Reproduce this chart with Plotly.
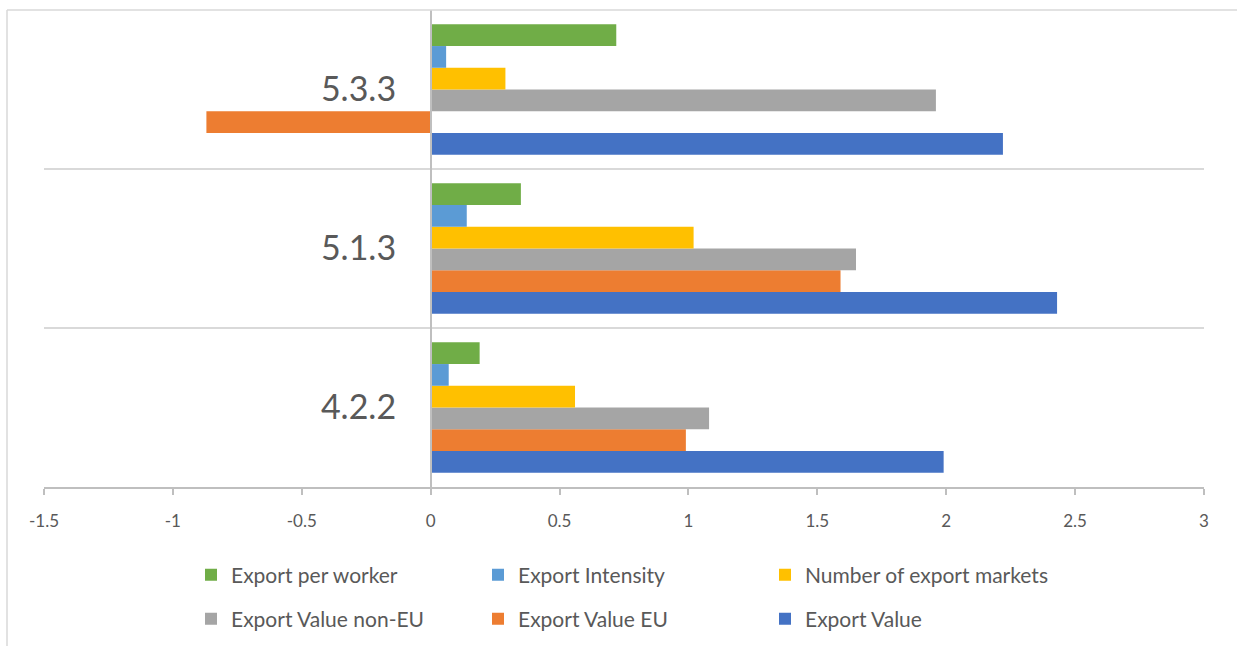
import plotly.graph_objects as go

categories = ["4.2.2", "5.1.3", "5.3.3"]
series_names = ["Export Value", "Export Value EU", "Export Value non-EU",
                "Number of export markets", "Export Intensity", "Export per worker"]
export_value = [1.99, 2.43, 2.22]
export_value_eu = [0.99, 1.59, -0.87]
export_value_non_eu = [1.08, 1.65, 1.96]
num_export_markets = [0.56, 1.02, 0.29]
export_intensity = [0.07, 0.14, 0.06]
export_per_worker = [0.19, 0.35, 0.72]
colors = ["#4472C4", "#ED7D31", "#A5A5A5", "#FFC000", "#5B9BD5", "#70AD47"]
x_ticks = [-1.5, -1, -0.5, 0, 0.5, 1, 1.5, 2, 2.5, 3]
x_tick_labels = ["-1.5", "-1", "-0.5", "0", "0.5", "1", "1.5", "2", "2.5", "3"]

values = [export_value, export_value_eu, export_value_non_eu,
          num_export_markets, export_intensity, export_per_worker]

FONT = "Lato, 'Open Sans', sans-serif"
W, H = 1237, 646
L, R, T, B = 44, 33, 10, 159
pw = W - L - R
ph = H - T - B

fig = go.Figure()
for i, (name, vals, col) in enumerate(zip(series_names, values, colors)):
    fig.add_trace(go.Bar(y=categories, x=vals, name=name, orientation="h",
                         legend="legend" if i >= 3 else "legend2",
                         marker=dict(color=col, line=dict(width=0))))

xmin, xmax = -1.5, 3
zero_pos = (0 - xmin) / (xmax - xmin)

leg_common = dict(orientation="h", traceorder="reversed",
                  xref="container", yref="container",
                  x=191 / W, xanchor="left", yanchor="middle",
                  entrywidth=242, entrywidthmode="pixels",
                  font=dict(family=FONT, size=21, color="#595959"),
                  itemwidth=30, bgcolor="rgba(0,0,0,0)")

fig.update_layout(
    width=W, height=H,
    margin=dict(l=L, r=R, t=T, b=B, autoexpand=False),
    paper_bgcolor="white", plot_bgcolor="white",
    barmode="group", bargap=0.18, bargroupgap=0,
    font=dict(family=FONT, color="#595959"),
    showlegend=True,
    legend=dict(leg_common, y=1 - 575 / H),
    legend2=dict(leg_common, y=1 - 619 / H),
    xaxis=dict(range=[xmin, xmax], tickvals=x_ticks, ticktext=x_tick_labels,
               showgrid=False, zeroline=False,
               showline=True, linecolor="#BFBFBF", linewidth=1.5,
               ticks="outside", ticklen=6, tickcolor="#BFBFBF", tickwidth=1.5,
               tickfont=dict(family=FONT, size=17, color="#595959"),
               ticklabelstandoff=12, fixedrange=True),
    yaxis=dict(type="category", categoryorder="array", categoryarray=categories,
               anchor="free", position=zero_pos,
               showline=True, linecolor="#BFBFBF", linewidth=1.5,
               showgrid=True, gridcolor="#D9D9D9", gridwidth=1.5,
               tickson="boundaries", ticks="", zeroline=False,
               tickfont=dict(family=FONT, size=34, color="#595959"),
               ticklabelstandoff=27, fixedrange=True),
)

# chart border (left and top edges)
bx = (7 - L) / pw
fig.add_shape(type="line", xref="paper", yref="paper",
              x0=bx, x1=bx, y0=1, y1=-(H - T - ph) / ph,
              line=dict(color="#D9D9D9", width=1.5))
fig.add_shape(type="line", xref="paper", yref="paper",
              x0=bx, x1=(W - L) / pw, y0=1, y1=1,
              line=dict(color="#D9D9D9", width=1.5))

fig.write_html("out.html")
